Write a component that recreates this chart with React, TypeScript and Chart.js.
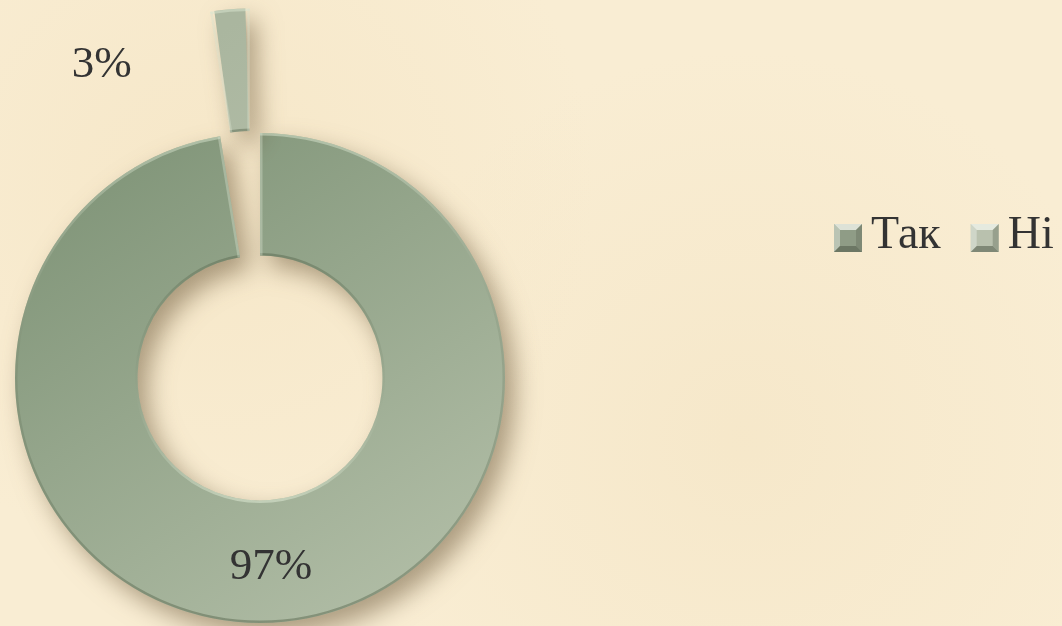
import React, { useEffect, useRef } from 'react';
import { Chart, registerables } from 'chart.js';

Chart.register(...registerables);

const categories = ['Так', 'Ні'];
const values = [97.4, 2.6];
const percentLabels = ['97%', '3%'];
const sliceDark = ['#83977b', '#aab69f'];
const sliceLight = ['#b2bea7', '#c1cab5'];
const legendColors = ['#8f9c86', '#b9c1ae'];
const explode = [0, 272];

const FONT = '"Liberation Serif", "Times New Roman", serif';

export default function App() {
  const ref = useRef<HTMLCanvasElement>(null);

  useEffect(() => {
    const canvas = ref.current!;

    const shadowPlugin = {
      id: 'shadowPlugin',
      beforeDatasetsDraw(chart: any) {
        const c = chart.ctx;
        c.save();
        c.shadowColor = 'rgba(95,75,45,0.5)';
        c.shadowBlur = 24;
        c.shadowOffsetX = 10;
        c.shadowOffsetY = 12;
      },
      afterDatasetsDraw(chart: any) {
        chart.ctx.restore();
      },
    };

    const arcGeom = (arc: any, i: number) => {
      const p = arc.getProps(['x', 'y', 'startAngle', 'endAngle', 'innerRadius', 'outerRadius'], true);
      const mid = (p.startAngle + p.endAngle) / 2;
      const circ = p.endAngle - p.startAngle;
      const off = explode[i] / 4;
      const t = off * (1 + (1 - Math.sin(Math.min(Math.PI, circ))));
      return { ...p, mid, cx: p.x + Math.cos(mid) * t, cy: p.y + Math.sin(mid) * t };
    };

    const bevelPlugin = {
      id: 'bevelPlugin',
      afterDatasetsDraw(chart: any) {
        const meta = chart.getDatasetMeta(0);
        const c = chart.ctx;
        meta.data.forEach((arc: any, i: number) => {
          const g = arcGeom(arc, i);
          c.save();
          c.beginPath();
          c.arc(g.cx, g.cy, g.outerRadius, g.startAngle, g.endAngle);
          c.arc(g.cx, g.cy, g.innerRadius, g.endAngle, g.startAngle, true);
          c.closePath();
          c.clip();
          const go = c.createLinearGradient(g.cx, g.cy - g.outerRadius, g.cx, g.cy + g.outerRadius);
          go.addColorStop(0, 'rgba(220,232,210,0.5)');
          go.addColorStop(0.5, 'rgba(110,125,100,0.3)');
          go.addColorStop(1, 'rgba(80,95,70,0.45)');
          c.lineWidth = 5;
          c.strokeStyle = go;
          c.beginPath();
          c.arc(g.cx, g.cy, g.outerRadius, g.startAngle, g.endAngle);
          c.stroke();
          const gi = c.createLinearGradient(g.cx, g.cy - g.innerRadius, g.cx, g.cy + g.innerRadius);
          gi.addColorStop(0, 'rgba(85,100,75,0.45)');
          gi.addColorStop(0.5, 'rgba(140,155,130,0.25)');
          gi.addColorStop(1, 'rgba(220,232,210,0.55)');
          c.strokeStyle = gi;
          c.beginPath();
          c.arc(g.cx, g.cy, g.innerRadius, g.startAngle, g.endAngle);
          c.stroke();
          c.strokeStyle = 'rgba(215,225,205,0.4)';
          c.lineWidth = 5;
          [g.startAngle, g.endAngle].forEach((a: number) => {
            c.beginPath();
            c.moveTo(g.cx + Math.cos(a) * g.innerRadius, g.cy + Math.sin(a) * g.innerRadius);
            c.lineTo(g.cx + Math.cos(a) * g.outerRadius, g.cy + Math.sin(a) * g.outerRadius);
            c.stroke();
          });
          c.restore();
        });
      },
    };

    const labelPlugin = {
      id: 'labelPlugin',
      afterDraw(chart: any) {
        const meta = chart.getDatasetMeta(0);
        const c = chart.ctx;
        c.save();
        c.font = `45px ${FONT}`;
        c.fillStyle = '#333333';
        c.textAlign = 'center';
        c.textBaseline = 'middle';
        meta.data.forEach((arc: any, i: number) => {
          const g = arcGeom(arc, i);
          const r = (g.innerRadius + g.outerRadius) / 2;
          let x = g.cx + Math.cos(g.mid) * r;
          let y = g.cy + Math.sin(g.mid) * r;
          if (explode[i] > 0) {
            x -= 133;
            y -= 5;
          } else {
            x -= 4;
            y += 6;
          }
          c.fillText(percentLabels[i], x, y);
        });
        c.restore();

        // legend
        c.save();
        c.font = `46px ${FONT}`;
        c.textBaseline = 'alphabetic';
        c.textAlign = 'left';
        let lx = 834;
        const size = 28;
        const top = 224;
        const baseline = 248;
        categories.forEach((name, i) => {
          const inset = 6;
          c.fillStyle = legendColors[i];
          c.fillRect(lx, top, size, size);
          c.fillStyle = 'rgba(240,244,235,0.8)';
          c.beginPath();
          c.moveTo(lx, top); c.lineTo(lx + size, top); c.lineTo(lx + size - inset, top + inset); c.lineTo(lx + inset, top + inset); c.closePath(); c.fill();
          c.fillStyle = 'rgba(230,235,225,0.5)';
          c.beginPath();
          c.moveTo(lx, top); c.lineTo(lx + inset, top + inset); c.lineTo(lx + inset, top + size - inset); c.lineTo(lx, top + size); c.closePath(); c.fill();
          c.fillStyle = 'rgba(80,90,72,0.55)';
          c.beginPath();
          c.moveTo(lx, top + size); c.lineTo(lx + size, top + size); c.lineTo(lx + size - inset, top + size - inset); c.lineTo(lx + inset, top + size - inset); c.closePath(); c.fill();
          c.fillStyle = 'rgba(100,110,92,0.4)';
          c.beginPath();
          c.moveTo(lx + size, top); c.lineTo(lx + size, top + size); c.lineTo(lx + size - inset, top + size - inset); c.lineTo(lx + size - inset, top + inset); c.closePath(); c.fill();
          c.fillStyle = '#333333';
          c.fillText(name, lx + size + 9, baseline);
          lx += size + 9 + c.measureText(name).width + 30;
        });
        c.restore();
      },
    };

    const chart = new Chart(canvas, {
      type: 'doughnut',
      data: {
        labels: categories,
        datasets: [
          {
            data: values,
            offset: explode,
            borderWidth: 0,
            clip: false,
            backgroundColor: (ctx: any) => {
              const i = ctx.dataIndex ?? 0;
              const c = ctx.chart.ctx;
              const area = ctx.chart.chartArea;
              if (!area) return sliceDark[i];
              const g = c.createLinearGradient(area.left + 150, area.top + 20, area.left + 450, area.bottom - 30);
              g.addColorStop(0, sliceDark[i]);
              g.addColorStop(1, sliceLight[i]);
              return g;
            },
          } as any,
        ],
      },
      options: {
        responsive: false,
        animation: false,
        cutout: '50%',
        radius: 245,
        layout: { padding: { left: 0, right: 542, top: 130, bottom: 0 } },
        plugins: {
          legend: { display: false },
          tooltip: { enabled: false },
        },
      } as any,
      plugins: [shadowPlugin, bevelPlugin, labelPlugin],
    });

    return () => chart.destroy();
  }, []);

  return (
    <div
      style={{
        position: 'fixed',
        left: 0,
        top: 0,
        width: 1062,
        height: 626,
        background:
          'radial-gradient(circle at 20% 30%, rgba(240,220,180,0.35), transparent 40%), radial-gradient(circle at 70% 70%, rgba(240,222,185,0.35), transparent 45%), #f9edd3',
      }}
    >
      <canvas ref={ref} width={1062} height={626} style={{ display: 'block' }} />
    </div>
  );
}
